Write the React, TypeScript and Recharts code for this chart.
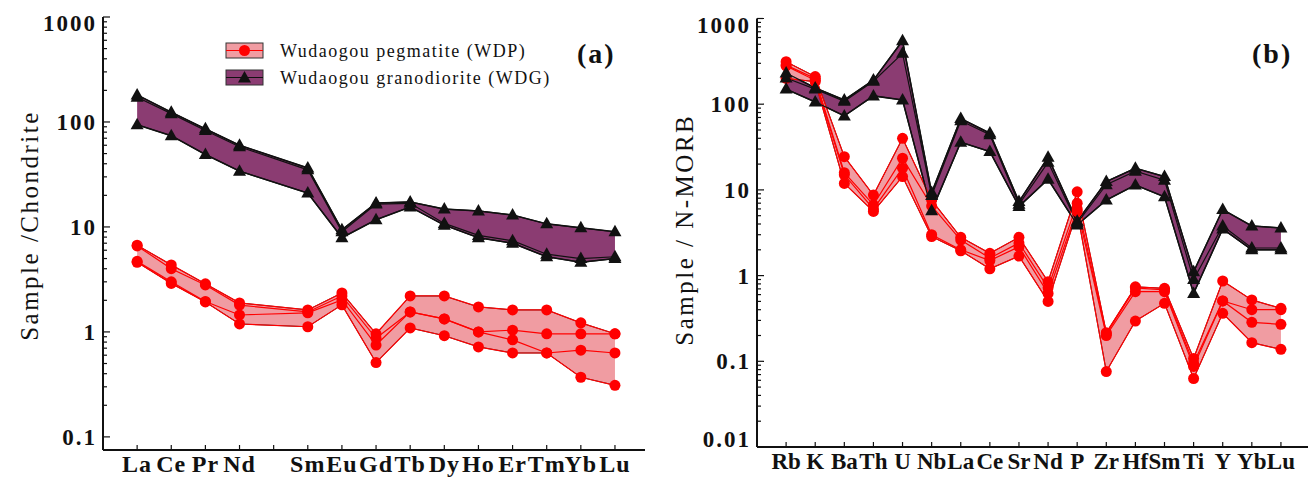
import React from 'react'
import { ComposedChart, Area, Line, XAxis, YAxis } from 'recharts'

const FONT = '"Liberation Serif", "Times New Roman", serif'
const PINK = '#f09ca2'
const PURPLE = '#8b3c72'
const RED = '#ff0000'
const INK = '#111111'

// (a) chondrite-normalised REE, Pm slot (index 4) left empty
const reeLabels = ['La', 'Ce', 'Pr', 'Nd', '', 'Sm', 'Eu', 'Gd', 'Tb', 'Dy', 'Ho', 'Er', 'Tm', 'Yb', 'Lu']
const reeIdx = [0, 1, 2, 3, 5, 6, 7, 8, 9, 10, 11, 12, 13, 14]
const reeWdp = [
  [6.7, 4.35, 2.87, 1.89, 1.62, 2.35, 0.96, 2.2, 2.2, 1.73, 1.62, 1.62, 1.22, 0.96],
  [6.6, 4.0, 2.8, 1.8, 1.55, 2.2, 0.87, 1.55, 1.33, 1.0, 1.04, 0.96, 0.96, 0.96],
  [4.7, 3.0, 1.95, 1.45, 1.52, 2.02, 0.75, 1.55, 1.33, 1.0, 0.84, 0.63, 0.37, 0.31],
  [4.6, 2.9, 1.93, 1.19, 1.12, 1.81, 0.51, 1.09, 0.92, 0.72, 0.63, 0.63, 0.67, 0.63],
]
const reeWdg = [
  [181, 124, 86, 60, 36.5, 9.4, 16.9, 17.3, 14.8, 14.2, 13, 10.7, 9.8, 9.0],
  [172, 120, 83, 58, 35, 9.0, 16.5, 16.8, 10.8, 8.3, 7.4, 5.5, 5.0, 5.2],
  [94, 74, 49, 34, 21, 7.9, 11.7, 15.5, 10.4, 7.9, 7.0, 5.2, 4.6, 5.0],
]
const reeMajors = [0.1, 1, 10, 100, 1000]

// (b) N-MORB-normalised spider diagram
const spiderLabels = ['Rb', 'K', 'Ba', 'Th', 'U', 'Nb', 'La', 'Ce', 'Sr', 'Nd', 'P', 'Zr', 'Hf', 'Sm', 'Ti', 'Y', 'Yb', 'Lu']
const spiderIdx = spiderLabels.map((_, i) => i)
const spiderWdp = [
  [313, 210, 24.4, 8.7, 40, 7.6, 2.8, 1.82, 2.8, 0.85, 9.5, 0.216, 0.74, 0.71, 0.108, 0.865, 0.52, 0.415],
  [286, 200, 15.9, 6.7, 23.4, 6.5, 2.6, 1.6, 2.4, 0.72, 7.0, 0.21, 0.72, 0.68, 0.095, 0.506, 0.4, 0.4],
  [280, 190, 15, 6.0, 17.9, 3.0, 2.0, 1.5, 2.17, 0.62, 6.0, 0.2, 0.65, 0.65, 0.087, 0.506, 0.285, 0.27],
  [200, 183, 11.9, 5.6, 14.3, 2.85, 1.95, 1.2, 1.69, 0.5, 5.6, 0.076, 0.295, 0.475, 0.063, 0.363, 0.165, 0.138],
]
const spiderWdg = [
  [231, 155, 112, 191, 551, 9.3, 68, 46, 7.3, 24, 4.3, 12.5, 17.9, 14.3, 1.11, 5.9, 3.8, 3.6],
  [202, 150, 108, 185, 392, 8.6, 64, 44, 6.8, 21, 4.1, 11.5, 16.5, 13, 0.9, 3.8, 2.1, 2.1],
  [150, 106, 73, 125, 112, 5.7, 36, 28, 6.4, 13.3, 3.9, 7.6, 11.4, 8.3, 0.62, 3.5, 2.0, 2.0],
]
const spiderMajors = [0.01, 0.1, 1, 10, 100, 1000]

function buildRows(idx: number[], wdp: number[][], wdg: number[][]) {
  return idx.map((x, k) => {
    const row: any = { x }
    const pv = wdp.map((s) => s[k])
    const gv = wdg.map((s) => s[k])
    pv.forEach((v, j) => (row['p' + j] = v))
    gv.forEach((v, j) => (row['g' + j] = v))
    row.pBand = [Math.min(...pv), Math.max(...pv)]
    row.gBand = [Math.min(...gv), Math.max(...gv)]
    return row
  })
}

function logTicks(majors: number[]) {
  const out: number[] = []
  majors.forEach((m, k) => {
    out.push(m)
    if (k < majors.length - 1) for (let j = 2; j <= 9; j++) out.push(+(m * j).toPrecision(3))
  })
  return out
}

const Tri = (props: any) => {
  const { cx, cy } = props
  if (cx == null || cy == null) return null
  return <path d={`M${cx},${cy - 7}L${cx + 6.5},${cy + 4.5}L${cx - 6.5},${cy + 4.5}Z`} fill={INK} />
}

const Dot = (props: any) => {
  const { cx, cy } = props
  if (cx == null || cy == null) return null
  return <circle cx={cx} cy={cy} r={5.5} fill={RED} />
}

function XTick({ x, y, payload, labels, size, spacing }: any) {
  return (
    <g>
      <line x1={x} x2={x} y1={y} y2={y - 5} stroke={INK} strokeWidth={1.2} />
      <text x={x} y={y + 22} textAnchor="middle" fontFamily={FONT} fontWeight="bold" fontSize={size} letterSpacing={spacing} fill={INK}>
        {labels[payload.value]}
      </text>
    </g>
  )
}

function YTick({ x, y, payload, majors }: any) {
  const v = payload.value
  const major = majors.includes(v)
  let dy = 8
  if (v === majors[majors.length - 1]) dy = 14
  if (v === majors[0] && majors[0] === 0.01) dy = 0
  return (
    <g>
      <line x1={x} x2={x + (major ? 7 : 4)} y1={y} y2={y} stroke={INK} strokeWidth={1.2} />
      {major && (
        <text x={x - 6} y={y + dy} textAnchor="end" fontFamily={FONT} fontWeight="bold" fontSize={23} letterSpacing={2} fill={INK}>
          {String(v)}
        </text>
      )}
    </g>
  )
}

function AxisTitle({ viewBox, value, dx, shift }: any) {
  if (!viewBox) return null
  const cx = viewBox.x + dx
  const cy = viewBox.y + viewBox.height / 2 + shift
  return (
    <text
      x={cx}
      y={cy}
      transform={`rotate(-90, ${cx}, ${cy})`}
      textAnchor="middle"
      dominantBaseline="central"
      fontFamily={FONT}
      fontSize={25}
      letterSpacing={2.5}
      fill={INK}
    >
      {value}
    </text>
  )
}

function Panel({ rows, labels, xDomain, yDomain, majors, nP, nG, title, titleDx, titleShift, width, margin, xHeight, labelSize, labelSpacing }: any) {
  const ticksX = labels.map((_: string, i: number) => i)
  const frame = { stroke: INK, strokeWidth: 2 }
  return (
    <ComposedChart width={width} height={478} data={rows} margin={margin}>
      <XAxis
        dataKey="x"
        type="number"
        domain={xDomain}
        ticks={ticksX}
        interval={0}
        allowDataOverflow
        tick={<XTick labels={labels} size={labelSize} spacing={labelSpacing} />}
        tickSize={0}
        tickMargin={0}
        tickLine={false}
        axisLine={frame}
        height={xHeight}
      />
      <XAxis xAxisId="t" orientation="top" type="number" domain={xDomain} allowDataOverflow tick={false} tickLine={false} axisLine={frame} height={0} />
      <YAxis
        type="number"
        scale="log"
        domain={yDomain}
        allowDataOverflow
        ticks={logTicks(majors)}
        interval={0}
        tick={<YTick majors={majors} />}
        tickSize={0}
        tickMargin={0}
        tickLine={false}
        axisLine={frame}
        width={95}
        label={<AxisTitle value={title} dx={titleDx} shift={titleShift} />}
      />
      <YAxis yAxisId="r" orientation="right" type="number" scale="log" domain={yDomain} allowDataOverflow tick={false} tickLine={false} axisLine={frame} width={0} />
      <Area dataKey="gBand" type="linear" fill={PURPLE} fillOpacity={1} stroke={INK} strokeWidth={1.5} isAnimationActive={false} activeDot={false} />
      <Area dataKey="pBand" type="linear" fill={PINK} fillOpacity={1} stroke="#333" strokeWidth={1} isAnimationActive={false} activeDot={false} />
      {Array.from({ length: nP }, (_, j) => (
        <Line key={'p' + j} dataKey={'p' + j} type="linear" stroke={RED} strokeWidth={1.2} dot={<Dot />} activeDot={false} isAnimationActive={false} />
      ))}
      {Array.from({ length: nG }, (_, j) => (
        <Line key={'g' + j} dataKey={'g' + j} type="linear" stroke={INK} strokeWidth={1.2} dot={<Tri />} activeDot={false} isAnimationActive={false} />
      ))}
    </ComposedChart>
  )
}

function Swatch({ x, y, fill, line, marker }: any) {
  return (
    <g>
      <rect x={x} y={y} width={37} height={15} fill={fill} stroke="#333" strokeWidth={1} />
      <line x1={x} x2={x + 37} y1={y + 7.5} y2={y + 7.5} stroke={line} strokeWidth={1.2} />
      {marker === 'dot' ? <Dot cx={x + 18.5} cy={y + 7.5} /> : <Tri cx={x + 18.5} cy={y + 8} />}
    </g>
  )
}

export default function App() {
  const reeRows = buildRows(reeIdx, reeWdp, reeWdg)
  const spiderRows = buildRows(spiderIdx, spiderWdp, spiderWdg)
  const txt = { fontFamily: FONT, fill: INK }
  return (
    <div style={{ position: 'absolute', left: 0, top: 0, width: 1313, height: 478, background: '#fff' }}>
      <div style={{ position: 'absolute', left: 0, top: 0 }}>
        <Panel
          rows={reeRows}
          labels={reeLabels}
          xDomain={[-1, 14.88]}
          yDomain={[0.075, 1000]}
          majors={reeMajors}
          nP={reeWdp.length}
          nG={reeWdg.length}
          title="Sample /Chondrite"
          titleDx={21}
          titleShift={-8}
          width={655}
          margin={{ top: 17, right: 10, bottom: 0, left: 8 }}
          xHeight={28}
          labelSize={24}
          labelSpacing={1}
        />
      </div>
      <div style={{ position: 'absolute', left: 655, top: 0 }}>
        <Panel
          rows={spiderRows}
          labels={spiderLabels}
          xDomain={[-1, 17.93]}
          yDomain={[0.01, 1000]}
          majors={spiderMajors}
          nP={spiderWdp.length}
          nG={spiderWdg.length}
          title="Sample / N-MORB"
          titleDx={22}
          titleShift={-3}
          width={658}
          margin={{ top: 18.5, right: 5, bottom: 0, left: 7 }}
          xHeight={31}
          labelSize={23}
          labelSpacing={0}
        />
      </div>
      <svg width={1313} height={100} style={{ position: 'absolute', left: 0, top: 0, pointerEvents: 'none' }}>
        <Swatch x={226} y={43} fill={PINK} line={RED} marker="dot" />
        <Swatch x={226} y={70} fill={PURPLE} line={INK} marker="tri" />
        <text x={280} y={57} fontSize={18} letterSpacing={1.5} {...txt}>Wudaogou  pegmatite (WDP)</text>
        <text x={280} y={84} fontSize={18} letterSpacing={1.5} {...txt}>Wudaogou granodiorite (WDG)</text>
        <text x={577} y={63} fontSize={28} fontWeight="bold" letterSpacing={2} {...txt}>(a)</text>
        <text x={1252} y={63} fontSize={28} fontWeight="bold" letterSpacing={2} {...txt}>(b)</text>
      </svg>
    </div>
  )
}
